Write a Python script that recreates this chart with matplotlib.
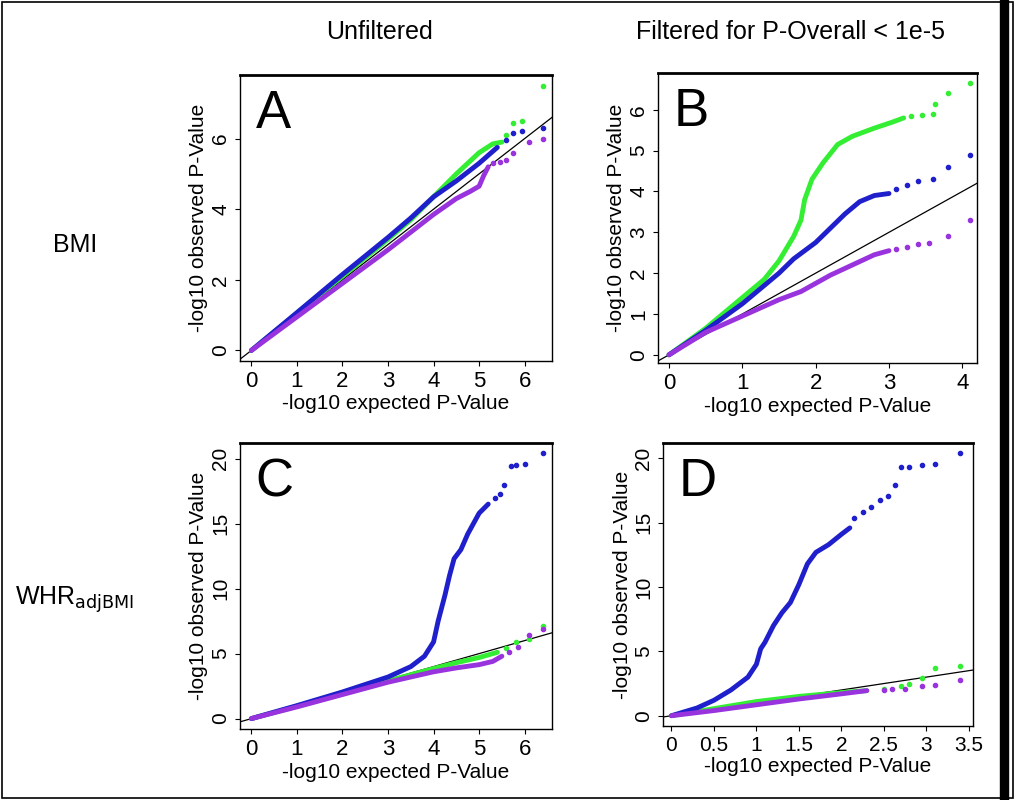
import matplotlib
matplotlib.use("Agg")
import matplotlib.pyplot as plt
from matplotlib.patches import Rectangle

plt.rcParams["font.family"] = ["Liberation Sans", "DejaVu Sans"]

GREEN = "#33ee33"
BLUE = "#1f1fcc"
PURPLE = "#9933dd"

# panel A (BMI, unfiltered): dense part + sparse tail, (x, y) pairs
a_green = [(0, 0), (1, 1.05), (2, 2.1), (3, 3.15), (3.5, 3.7), (4, 4.35), (4.5, 5.0), (5, 5.6), (5.3, 5.85), (5.5, 5.9)]
a_green_tail = [(5.6, 6.1), (5.75, 6.45), (5.95, 6.5), (6.4, 7.5)]
a_blue = [(0, 0), (1, 1.07), (2, 2.15), (3, 3.2), (3.5, 3.75), (4, 4.35), (4.5, 4.8), (5, 5.3), (5.4, 5.75)]
a_blue_tail = [(5.6, 5.95), (5.75, 6.15), (5.95, 6.2), (6.4, 6.3)]
a_purple = [(0, 0), (1, 0.95), (2, 1.9), (3, 2.85), (3.5, 3.35), (4, 3.85), (4.5, 4.3), (4.8, 4.5), (5, 4.65), (5.1, 4.95), (5.2, 5.2)]
a_purple_tail = [(5.3, 5.3), (5.45, 5.35), (5.6, 5.4), (5.75, 5.6), (6.1, 5.9), (6.4, 6.0)]

# panel B (BMI, filtered)
b_green = [(0, 0), (0.5, 0.65), (1, 1.4), (1.3, 1.85), (1.5, 2.3), (1.7, 2.9), (1.8, 3.3), (1.85, 3.8), (1.95, 4.3),
           (2.1, 4.7), (2.3, 5.15), (2.5, 5.35), (2.8, 5.55), (3.05, 5.7), (3.2, 5.8)]
b_green_tail = [(3.3, 5.85), (3.45, 5.87), (3.6, 5.9), (3.63, 6.15), (3.8, 6.4), (4.1, 6.65)]
b_blue = [(0, 0), (0.5, 0.6), (1, 1.25), (1.3, 1.7), (1.5, 2.0), (1.7, 2.35), (2, 2.75), (2.2, 3.1), (2.4, 3.45),
          (2.6, 3.75), (2.8, 3.9), (3.0, 3.95)]
b_blue_tail = [(3.1, 4.05), (3.25, 4.15), (3.4, 4.25), (3.6, 4.3), (3.8, 4.6), (4.1, 4.9)]
b_purple = [(0, 0), (0.5, 0.55), (1, 0.95), (1.5, 1.35), (1.8, 1.55), (2.2, 1.95), (2.5, 2.2), (2.8, 2.45), (3.0, 2.55)]
b_purple_tail = [(3.1, 2.6), (3.25, 2.65), (3.4, 2.72), (3.55, 2.75), (3.8, 2.9), (4.1, 3.3)]

# panel C (WHRadjBMI, unfiltered)
c_green = [(0, 0), (1, 0.95), (2, 1.9), (3, 2.9), (4, 3.85), (4.5, 4.3), (5, 4.7), (5.4, 5.1)]
c_green_tail = [(5.6, 5.4), (5.8, 5.9), (6.1, 6.1), (6.4, 7.1)]
c_blue = [(0, 0), (1, 1), (2, 2.05), (3, 3.2), (3.5, 4.0), (3.8, 4.8), (4.0, 5.9), (4.1, 7.5), (4.25, 9.5), (4.35, 11),
          (4.45, 12.3), (4.6, 13.0), (4.75, 14.2), (5.0, 15.8), (5.2, 16.5)]
c_blue_tail = [(5.35, 17.0), (5.45, 17.3), (5.55, 18.0), (5.7, 19.4), (5.82, 19.5), (6.0, 19.6), (6.4, 20.4)]
c_purple = [(0, 0), (1, 0.9), (2, 1.85), (3, 2.8), (4, 3.6), (4.5, 3.9), (5, 4.15), (5.3, 4.4), (5.5, 4.8)]
c_purple_tail = [(5.65, 5.1), (5.85, 5.5), (6.1, 6.4), (6.4, 6.9)]

# panel D (WHRadjBMI, filtered)
d_green = [(0, 0), (0.5, 0.55), (1, 1.1), (1.5, 1.5), (2.0, 1.8), (2.3, 1.95)]
d_green_tail = [(2.5, 2.05), (2.7, 2.3), (2.8, 2.5), (2.95, 2.95), (3.1, 3.7), (3.4, 3.9)]
d_blue = [(0, 0), (0.3, 0.6), (0.5, 1.2), (0.7, 2.0), (0.9, 3.0), (1.0, 4.0), (1.05, 5.2), (1.1, 5.7), (1.2, 7.0),
          (1.3, 8.0), (1.4, 8.8), (1.5, 10.2), (1.6, 11.8), (1.7, 12.7), (1.85, 13.3), (2.0, 14.1), (2.1, 14.6)]
d_blue_tail = [(2.15, 15.4), (2.25, 15.8), (2.35, 16.2), (2.45, 16.8), (2.55, 17.1), (2.63, 17.9), (2.7, 19.3),
               (2.8, 19.35), (2.95, 19.5), (3.1, 19.6), (3.4, 20.4)]
d_purple = [(0, 0), (0.5, 0.4), (1, 0.85), (1.5, 1.3), (2, 1.7), (2.3, 1.95)]
d_purple_tail = [(2.5, 2.0), (2.6, 2.05), (2.75, 2.1), (2.95, 2.3), (3.1, 2.35), (3.4, 2.75)]

panels = [
    ("A", [240, 75, 552, 361], (-0.25, 6.6), (-0.3, 7.8), [0, 1, 2, 3, 4, 5, 6], [0, 2, 4, 6],
     [(a_green, a_green_tail), (a_blue, a_blue_tail), (a_purple, a_purple_tail)]),
    ("B", [658, 73, 977, 363], (-0.15, 4.2), (-0.2, 6.9), [0, 1, 2, 3, 4], [0, 1, 2, 3, 4, 5, 6],
     [(b_green, b_green_tail), (b_blue, b_blue_tail), (b_purple, b_purple_tail)]),
    ("C", [240, 443, 552, 729], (-0.25, 6.6), (-0.8, 21.2), [0, 1, 2, 3, 4, 5, 6], [0, 5, 10, 15, 20],
     [(c_green, c_green_tail), (c_blue, c_blue_tail), (c_purple, c_purple_tail)]),
    ("D", [663, 443, 973, 726], (-0.1, 3.55), (-0.8, 21.2), [0, 0.5, 1, 1.5, 2, 2.5, 3, 3.5], [0, 5, 10, 15, 20],
     [(d_green, d_green_tail), (d_blue, d_blue_tail), (d_purple, d_purple_tail)]),
]

W, H = 1015, 800
fig = plt.figure(figsize=(W / 100, H / 100), dpi=100)

for letter, (x0, y0, x1, y1), xlim, ylim, xt, yt, series in panels:
    ax = fig.add_axes([x0 / W, 1 - y1 / H, (x1 - x0) / W, (y1 - y0) / H])
    ax.plot([-1, 25], [-1, 25], color="black", lw=0.9, zorder=1)
    for (dense, tail), col in zip(series, [GREEN, BLUE, PURPLE]):
        ax.plot([p[0] for p in dense], [p[1] for p in dense], color=col, lw=3.5, solid_capstyle="round", zorder=2)
        ax.scatter([p[0] for p in tail], [p[1] for p in tail], color=col, s=9, zorder=3)
    ax.set_xlim(*xlim)
    ax.set_ylim(*ylim)
    ax.set_xticks(xt)
    ax.set_xticklabels([f"{v:g}" for v in xt], fontsize=16 if letter != "D" else 15)
    ax.set_yticks(yt)
    ax.set_yticklabels([f"{v:g}" for v in yt], rotation=90, va="center", fontsize=15)
    for s in ax.spines.values():
        s.set_linewidth(1.0)
    ax.spines["top"].set_linewidth(2)
    ax.set_xlabel("-log10 expected P-Value", fontsize=15, labelpad=2)
    ax.set_ylabel("-log10 observed P-Value", fontsize=15, labelpad=2)
    ax.text(0.05, 0.95, letter, transform=ax.transAxes, fontsize=38, va="top", ha="left")

fig.text(380 / W, 1 - 32 / H, "Unfiltered", fontsize=18, ha="center", va="center")
fig.text(790 / W, 1 - 32 / H, "Filtered for P-Overall < 1e-5", fontsize=18, ha="center", va="center")
fig.text(75 / W, 1 - 245 / H, "BMI", fontsize=18, ha="center", va="center")
fig.text(75 / W, 1 - 600 / H, "WHR$_{\\mathrm{adjBMI}}$", fontsize=18, ha="center", va="center")

# outer frame and thick right bar
fig.patches.append(Rectangle((0.002, 0.002), 0.996, 0.996, transform=fig.transFigure, fill=False, lw=1.2, ec="black"))
fig.patches.append(Rectangle((1000 / W, 0), 8 / W, 1, transform=fig.transFigure, color="black"))

fig.savefig("out.png", dpi=100)
